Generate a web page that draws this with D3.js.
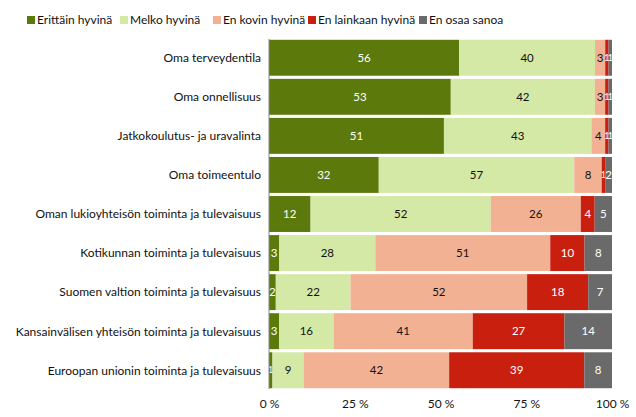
<!DOCTYPE html>
<html><head><meta charset="utf-8">
<script src="https://cdn.jsdelivr.net/npm/d3@7"></script>
<style>body{margin:0;background:#fff}svg{display:block;font-family:Lato,"Open Sans",sans-serif}</style>
</head><body><svg id="c" width="636" height="417"></svg>
<script>
const categories = ["Oma terveydentila","Oma onnellisuus","Jatkokoulutus- ja uravalinta","Oma toimeentulo","Oman lukioyhteisön toiminta ja tulevaisuus","Kotikunnan toiminta ja tulevaisuus","Suomen valtion toiminta ja tulevaisuus","Kansainvälisen yhteisön toiminta ja tulevaisuus","Euroopan unionin toiminta ja tulevaisuus"];
const seriesNames = ["Erittäin hyvinä","Melko hyvinä","En kovin hyvinä","En lainkaan hyvinä","En osaa sanoa"];
const erittain = [56,53,51,32,12,3,2,3,1];
const melko = [40,42,43,57,52,28,22,16,9];
const enKovin = [3,3,4,8,26,51,52,41,42];
const enLainkaan = [1,1,1,1,4,10,18,27,39];
const enOsaa = [1,1,1,2,5,8,7,14,8];
const tickLabels = ["0 %","25 %","50 %","75 %","100 %"];
const colors = ["#5b7a0b","#d5e9a6","#f3b193","#c91f0f","#6a6a6b"];
const textColors = ["#fff","#111","#111","#fff","#fff"];

const series = [erittain, melko, enKovin, enLainkaan, enOsaa];
const rows = categories.map((c,i)=>{
  const vals = series.map(s=>s[i]);
  const tot = d3.sum(vals);
  let acc = 0;
  return vals.map((v,k)=>{const o={cat:c,k,v,x0:acc/tot,x1:(acc+v)/tot};acc+=v;return o;});
});

const svg = d3.select("#c");
const x = d3.scaleLinear().domain([0,1]).range([269,612]);
const y = d3.scaleBand().domain(categories).range([39,389]).paddingInner(0.08).paddingOuter(0.02);

const g = svg.append("g");
rows.forEach(r=>{
  const gg = g.append("g");
  gg.selectAll("rect").data(r).join("rect")
    .attr("x",d=>x(d.x0)).attr("width",d=>Math.max(0,x(d.x1)-x(d.x0)))
    .attr("y",d=>y(d.cat)).attr("height",y.bandwidth())
    .attr("fill",d=>colors[d.k]);
  gg.selectAll("text").data(r).join("text")
    .attr("x",d=>(x(d.x0)+x(d.x1))/2).attr("y",d=>y(d.cat)+y.bandwidth()/2)
    .attr("dy","0.36em").attr("text-anchor","middle")
    .attr("font-size",d=>(x(d.x1)-x(d.x0))<6?9:11.5)
    .attr("fill",d=>textColors[d.k]).text(d=>d.v);
});

// category labels
svg.append("g").selectAll("text").data(categories).join("text")
  .attr("x",261).attr("y",d=>y(d)+y.bandwidth()/2).attr("dy","0.36em")
  .attr("text-anchor","end").attr("font-size",12).attr("fill","#111").text(d=>d);

// left axis line
svg.append("line").attr("x1",269).attr("x2",269).attr("y1",39).attr("y2",389).attr("stroke","#888").attr("stroke-width",1);

// x axis
const ax = d3.axisBottom(x).tickValues([0,0.25,0.5,0.75,1]).tickFormat((d,i)=>tickLabels[i]).tickSize(0).tickPadding(0);
const axg = svg.append("g").attr("transform","translate(0,399)").call(ax);
axg.select(".domain").remove();
axg.selectAll("text").attr("font-size",12).attr("fill","#111").attr("font-family","Lato,'Open Sans',sans-serif");

// legend
const legX = [27,120,213,308,419];
const lg = svg.append("g").selectAll("g").data(seriesNames).join("g").attr("transform",(d,i)=>`translate(${legX[i]},0)`);
lg.append("rect").attr("x",0).attr("y",16).attr("width",8).attr("height",8).attr("fill",(d,i)=>colors[i]);
lg.append("text").attr("x",10).attr("y",20).attr("dy","0.36em").attr("font-size",12).attr("fill","#111").text(d=>d);
</script></body></html>
